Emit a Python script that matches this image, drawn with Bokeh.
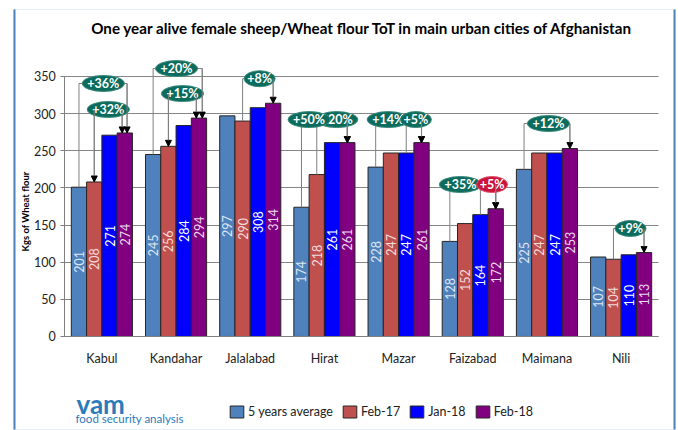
import math
from bokeh.plotting import figure
from bokeh.models import (ColumnDataSource, Range1d, FixedTicker, Label, LinearAxis,
                          Legend, LegendItem, BoxAnnotation, Arrow, NormalHead)
from bokeh.transform import dodge
from bokeh.core.properties import value
from bokeh.embed import file_html
from bokeh.resources import INLINE

# ---------------- data ----------------
cities = ["Kabul", "Kandahar", "Jalalabad", "Hirat", "Mazar", "Faizabad", "Maimana", "Nili"]
series_names = ["5 years average", "Feb-17", "Jan-18", "Feb-18"]
avg5 = [201, 245, 297, 174, 228, 128, 225, 107]
feb17 = [208, 256, 290, 218, 247, 152, 247, 104]
jan18 = [271, 284, 308, 261, 247, 164, 247, 110]
feb18 = [274, 294, 314, 261, 261, 172, 253, 113]
y_ticks = [0, 50, 100, 150, 200, 250, 300, 350]

# change call-outs: city, from-series index, to-series index, text, level (kgs)
ann_city = ["Kabul", "Kabul", "Kandahar", "Kandahar", "Jalalabad", "Hirat", "Hirat",
            "Mazar", "Mazar", "Faizabad", "Faizabad", "Maimana", "Nili"]
ann_from = [0, 1, 0, 1, 1, 1, 0, 0, 2, 0, 2, 0, 1]
ann_to = [3, 3, 3, 3, 3, 3, 3, 3, 3, 3, 3, 3, 3]
ann_text = ["+36%", "+32%", "+20%", "+15%", "+8%", "+20%", "+50%",
            "+14%", "+5%", "+35%", "+5%", "+12%", "+9%"]
ann_level = [340.6, 305.6, 360.7, 327.0, 347.0, 292.0, 292.0,
             292.0, 292.0, 204.6, 204.6, 286.7, 145.4]

# ---------------- style / layout ----------------
colors = ["#4f81bd", "#c0504d", "#0000ff", "#800080"]
label_colors = ["#dce6f2", "#f2dcdb", "#ffffff", "#ecd9ec"]
ann_fill = ["#0b6b5c"] * 13
ann_fill[10] = "#c8143c"
ann_line = ["#3c8a7c"] * 13
ann_line[10] = "#e0506a"
ann_ell_dx = [1.5, 6.5, 0.5, 6.5, 9.5, 12.5, -15.5, -10.5, 17.5, -12.5, 19.5, 1.5, 9.5]
ann_arrow_dx = [2.3, -2.7, 3.3, -2.7, 0, 0, 0, 0, 0, 0, 0, 0, 0]
ann_start_arrow = [False, True, False, True] + [False] * 9

FONT = "Lato"
BW = 0.206
offs = [-1.5 * BW, -0.5 * BW, 0.5 * BW, 1.5 * BW]
PX = 1.0 / 75.0  # category units per pixel
n = len(cities)

p = figure(width=678, height=430, output_backend="svg", toolbar_location=None,
           x_range=Range1d(-1.3667, 7.7733), y_range=Range1d(-126.54, 452.3),
           x_axis_location=None, y_axis_location=None,
           min_border_left=0, min_border_right=0, min_border_top=0, min_border_bottom=0)
p.outline_line_color = None
p.background_fill_color = "white"
p.border_fill_color = "white"

# axes (placed at data locations inside the frame)
yaxis = LinearAxis(fixed_location=-0.5, ticker=FixedTicker(ticks=y_ticks), bounds=(0, 350))
yaxis.axis_line_color = "#7f7f7f"
yaxis.major_tick_line_color = "#7f7f7f"
yaxis.major_tick_out = 4
yaxis.major_tick_in = 0
yaxis.minor_tick_line_color = None
yaxis.major_label_standoff = 5
yaxis.major_label_text_font = FONT
yaxis.major_label_text_font_size = "12.5px"
yaxis.major_label_text_color = "#222222"
p.add_layout(yaxis, "left")

xaxis = LinearAxis(fixed_location=0, ticker=FixedTicker(ticks=list(range(n))),
                   bounds=(-0.5, n - 0.5))
xaxis.major_label_overrides = {i: c for i, c in enumerate(cities)}
xaxis.axis_line_color = "#7f7f7f"
xaxis.major_tick_line_color = None
xaxis.minor_tick_line_color = None
xaxis.major_label_standoff = 9
xaxis.major_label_text_font = FONT
xaxis.major_label_text_font_size = "12.5px"
xaxis.major_label_text_color = "#222222"
p.add_layout(xaxis, "below")

p.xgrid.grid_line_color = None
p.ygrid.grid_line_color = "#868686"
p.ygrid.grid_line_width = 1
p.ygrid.cross_bounds = (-0.5, n - 0.5)
p.ygrid.bounds = (0, 350)

# bars
src = ColumnDataSource(dict(idx=list(range(n)), s0=avg5, s1=feb17, s2=jan18, s3=feb18,
                            h0=[v / 2 for v in avg5], h1=[v / 2 for v in feb17],
                            h2=[v / 2 for v in jan18], h3=[v / 2 for v in feb18],
                            t0=[str(v) for v in avg5], t1=[str(v) for v in feb17],
                            t2=[str(v) for v in jan18], t3=[str(v) for v in feb18]))
bar_renderers = []
for j in range(4):
    r = p.vbar(x=dodge("idx", offs[j]), top="s%d" % j, width=BW,
               source=src, fill_color=colors[j], line_color="#262626", line_width=1)
    bar_renderers.append(r)
for j in range(4):
    p.text(x=dodge("idx", offs[j]), y="h%d" % j, text="t%d" % j,
           source=src, angle=math.pi / 2, text_align="center", text_baseline="middle",
           text_color=label_colors[j], text_font=value(FONT), text_font_size="12.5px")

# call-outs
vals = [avg5, feb17, jan18, feb18]
xs, ys = [], []
arr_x0, arr_y0, arr_y1 = [], [], []
for k in range(len(ann_city)):
    i = cities.index(ann_city[k])
    f, t = ann_from[k], ann_to[k]
    x0 = i + offs[f]
    x1 = i + offs[t] + ann_arrow_dx[k] * PX
    lvl = ann_level[k]
    xs.append([x0, x0, x1, x1])
    ys.append([vals[f][i], lvl, lvl, vals[t][i]])
    arr_x0.append(x1); arr_y0.append(lvl); arr_y1.append(vals[t][i])
    if ann_start_arrow[k]:
        arr_x0.append(x0); arr_y0.append(lvl); arr_y1.append(vals[f][i])
p.multi_line(xs=xs, ys=ys, line_color="#7f7f7f", line_width=1)
asrc = ColumnDataSource(dict(x=arr_x0, y0=arr_y0, y1=arr_y1))
p.add_layout(Arrow(x_start="x", y_start="y0", x_end="x", y_end="y1", source=asrc,
                   line_color="#7f7f7f", line_width=1,
                   end=NormalHead(size=6, fill_color="black", line_color="black")))

for k in range(len(ann_city)):
    i = cities.index(ann_city[k])
    cx = i + ann_ell_dx[k] * PX
    w = 42 if len(ann_text[k]) >= 4 else 31
    p.ellipse(x=[cx], y=[ann_level[k]], width=w, height=16, width_units="screen",
              height_units="screen", fill_color=ann_fill[k], line_color=ann_line[k],
              line_width=1)
    p.text(x=[cx], y=[ann_level[k]], text=[ann_text[k]], text_align="center",
           text_baseline="middle", text_color="white", text_font=value(FONT),
           text_font_style="bold", text_font_size="12.5px")

# legend
legend = Legend(items=[LegendItem(label=series_names[j], renderers=[bar_renderers[j]])
                       for j in range(4)],
                orientation="horizontal", location=(228, 11),
                glyph_width=17, glyph_height=15, label_standoff=3, spacing=8,
                padding=0, margin=0, border_line_color=None, background_fill_alpha=0,
                label_text_font=FONT, label_text_font_size="12.5px", label_text_color="#222222")
p.add_layout(legend)

# frame around the chart
def sbox(**kw):
    return BoxAnnotation(left_units="screen", right_units="screen",
                         top_units="screen", bottom_units="screen", **kw)

p.add_layout(sbox(left=13, right=675, top=421, bottom=1,
                  fill_alpha=0, line_color="#b4c4de", line_width=1))
p.add_layout(sbox(left=13, right=15, top=421, bottom=1,
                  fill_color="#4f81bd", fill_alpha=1, line_color=None))
p.add_layout(sbox(left=673, right=675, top=421, bottom=1,
                  fill_color="#4f81bd", fill_alpha=1, line_color=None))

# texts
p.add_layout(Label(x=362, y=403, x_units="screen", y_units="screen",
                   text="One year alive female sheep/Wheat flour ToT in main urban cities of Afghanistan",
                   text_align="center", text_baseline="middle", text_font=FONT,
                   text_font_style="bold", text_font_size="15.2px", text_color="black"))
p.add_layout(Label(x=25, y=219, x_units="screen", y_units="screen",
                   text="Kgs of Wheat flour", angle=math.pi / 2,
                   text_align="center", text_baseline="middle", text_font=FONT,
                   text_font_style="bold", text_font_size="9.5px", text_color="black"))
p.add_layout(Label(x=76, y=27, x_units="screen", y_units="screen", text="vam",
                   text_align="left", text_baseline="middle", text_font=FONT,
                   text_font_style="bold", text_font_size="26px", text_color="#2b7bba"))
p.add_layout(Label(x=75, y=12, x_units="screen", y_units="screen",
                   text="food security analysis",
                   text_align="left", text_baseline="middle", text_font=FONT,
                   text_font_size="11.5px", text_color="#2b7bba"))

open("out.html", "w").write(file_html(p, INLINE))
